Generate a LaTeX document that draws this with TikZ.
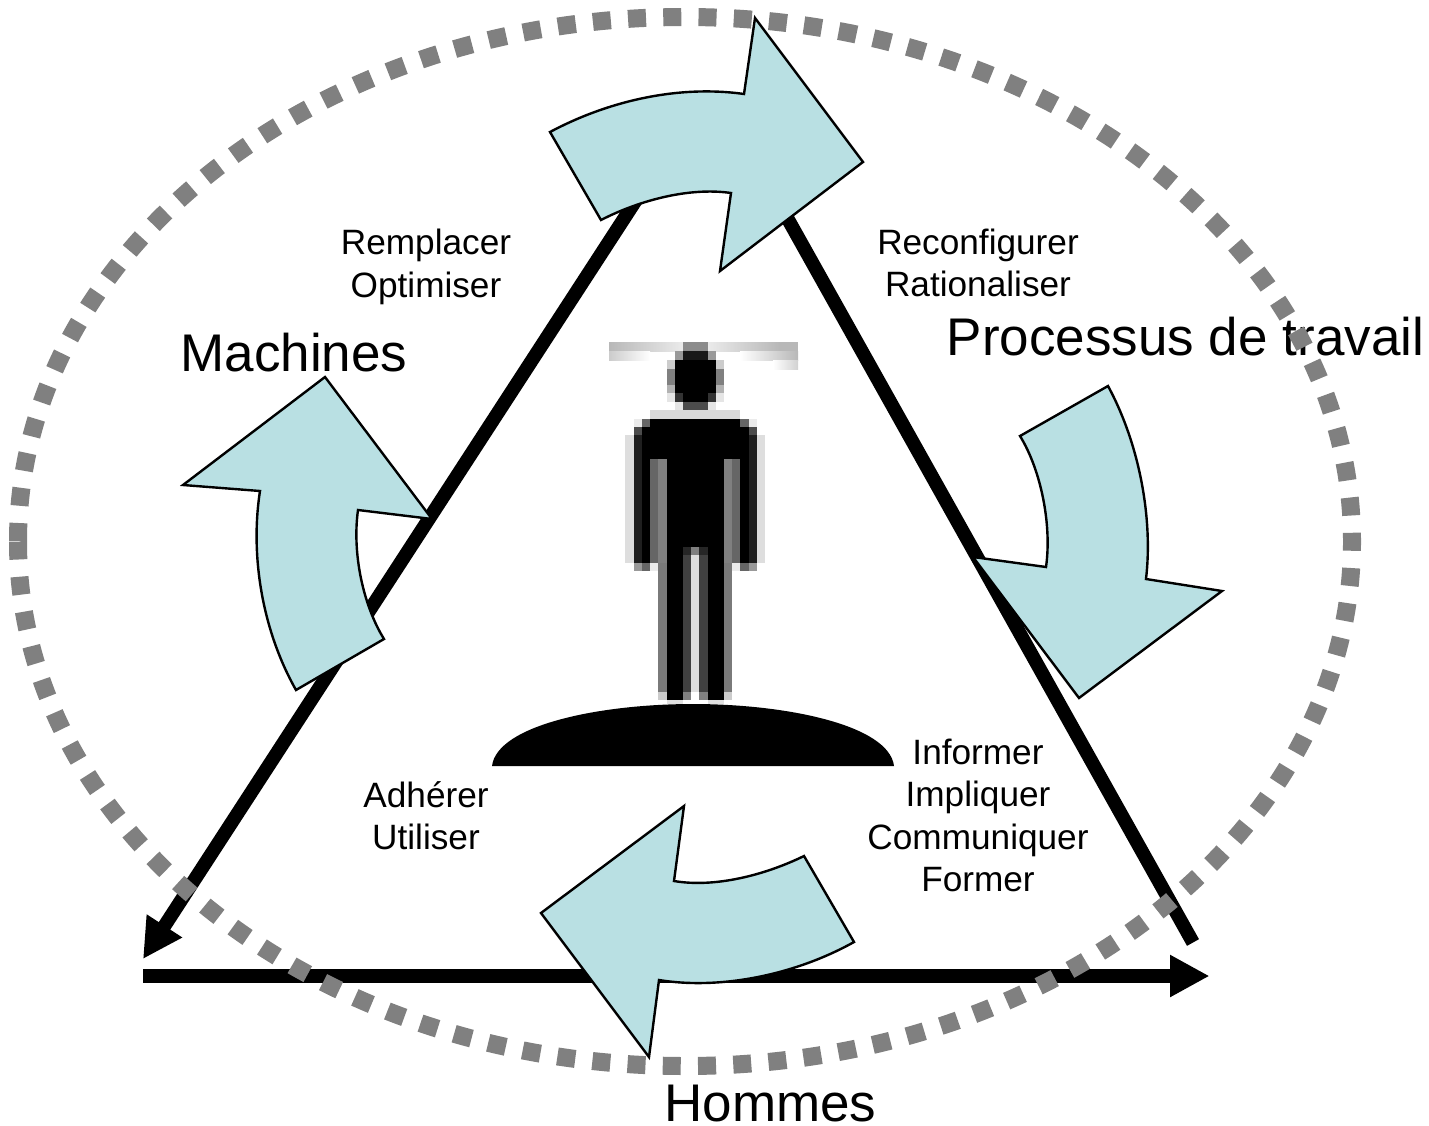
\documentclass[tikz,border=0pt]{standalone}
\usepackage{fontspec}
\setmainfont{Liberation Sans}
\usetikzlibrary{arrows.meta}
\definecolor{flow}{HTML}{B9E0E3}
\tikzset{
  side/.style={line width=13.7pt},
  tip/.style={-{Triangle[length=39.5pt,width=39.5pt]}},
  flowarrow/.style={draw=black,line width=2.4pt,fill=flow,line join=miter},
  small/.style={align=center,font=\fontsize{35.2}{42.4}\selectfont,inner sep=0pt},
  big/.style={font=\fontsize{53}{60}\selectfont,inner sep=0pt},
  ring/.style={draw=black!50,line width=18pt,dash pattern=on 18pt off 17.27pt},
}
\begin{document}
\begin{tikzpicture}[x=1pt,y=-1pt]
  \useasboundingbox (0,0) rectangle (1429,1125);
  \coordinate (leftA) at (640,194);
  \coordinate (leftB) at (143,959);
  \coordinate (rightA) at (780,205);
  \coordinate (rightB) at (1193,942.5);
  \coordinate (baseA) at (143,976);
  \coordinate (baseB) at (1209.5,976);
  \draw[side,tip] (leftA) -- (leftB);
  \draw[side] (rightA) -- (rightB);
  \draw[side,tip] (baseA) -- (baseB);
  \node[small] (remplacer) at (426,267) {Remplacer\\Optimiser};
  \node[small] (reconfigurer) at (978,263) {Reconfigurer\\Rationaliser};
  \node[small] (adherer) at (426,815.5) {Adhérer\\Utiliser};
  \node[small] (informer) at (978,815.5) {Informer\\Impliquer\\Communiquer\\Former};
  \node[big] (machines) at (294,353) {Machines};
  \node[big] (processus) at (1185.5,337) {Processus de travail};
  \node[big] (hommes) at (770.5,1104) {Hommes};
  \draw[ring] (18,541.5) arc[start angle=180,end angle=-180,x radius=667,y radius=524.5];
  \draw[flowarrow] (550,132) .. controls (610,100) and (680,85) .. (744,94) -- (755,18) -- (863,162) -- (720,271) -- (731,193) .. controls (690,187) and (640,200) .. (601,220) -- cycle;
  \draw[flowarrow] (1108,386) .. controls (1140,445) and (1153,520) .. (1146,579) -- (1222,591) -- (1079,698) -- (973,557) -- (1046,567) .. controls (1052,525) and (1041,470) .. (1020,436) -- cycle;
  \draw[flowarrow] (854,942) .. controls (795,975) and (720,990) .. (659,980) -- (649,1057) -- (541,913) -- (684,806) -- (674,881) .. controls (715,888) and (765,875) .. (804,856) -- cycle;
  \draw[flowarrow] (296,690) .. controls (262,630) and (250,555) .. (260,491) -- (183,485) -- (325,377) -- (432,519) -- (358,510) .. controls (352,553) and (363,605) .. (384,639) -- cycle;
  \fill[left color=black!28,right color=black!8] (609,342) rectangle (683,351);
  \fill[left color=black!8,right color=black!28] (708,342) rectangle (780,351);
  \fill[black!28] (780,342) rectangle (798,351);
  \fill[left color=black!20,right color=white] (609,351) rectangle (650,360);
  \fill[left color=white,right color=black!28] (740,351) rectangle (798,360);
  \fill[left color=white,right color=black!18] (773,360) rectangle (798,369);
  \fill[black!45] (683,342) rectangle (708,351);
  \fill[black!40] (675,351) rectangle (716,360);
  \fill[black!90] (683,351) rectangle (708,360);
  \fill[black!20] (667,360) rectangle (724,369);
  \fill[black!50] (667,369) rectangle (724,385);
  \fill[black!30] (667,385) rectangle (724,393);
  \fill[black!10] (667,393) rectangle (724,402);
  \fill[black] (675,360) rectangle (716,393);
  \fill[black!80] (675,393) rectangle (716,402);
  \fill[black] (683,393) rectangle (708,402);
  \fill[black!10] (675,402) rectangle (716,410);
  \fill[black!70] (683,402) rectangle (708,410);
  \fill[black!15] (650,410) rectangle (740,419);
  \fill[black!13] (625,435) rectangle (765,563);
  \fill[black!8] (634,419) rectangle (757,427);
  \fill[black!60] (642,419) rectangle (749,427);
  \fill[black] (650,419) rectangle (740,427);
  \fill[black!70] (634,427) rectangle (757,435);
  \fill[black!88] (634,435) rectangle (757,563);
  \fill[black] (642,427) rectangle (749,563);
  \fill[black!60] (650,459) rectangle (658,563);
  \fill[black!50] (658,459) rectangle (667,563);
  \fill[black!50] (724,459) rectangle (732,563);
  \fill[black!60] (732,459) rectangle (740,563);
  \fill[black!40] (634,563) rectangle (642,571);
  \fill[black!60] (642,563) rectangle (650,571);
  \fill[black!8] (650,563) rectangle (658,571);
  \fill[black!60] (732,563) rectangle (749,571);
  \fill[black!40] (749,563) rectangle (757,571);
  \fill[black!8] (732,563) rectangle (740,571);
  \fill[black!52] (658,563) rectangle (732,692);
  \fill[black] (667,555) rectangle (724,700);
  \fill[black!85] (683,547) rectangle (708,555);
  \fill[black!50] (691,547) rectangle (699,555);
  \fill[black!75] (683,555) rectangle (708,692);
  \fill[black!13] (691,555) rectangle (699,692);
  \fill[black!20] (658,692) rectangle (667,700);
  \fill[black!20] (724,692) rectangle (732,700);
  \fill[black!50] (683,692) rectangle (708,700);
  \fill[white] (691,692) rectangle (699,700);
  \fill[black!12] (667,700) rectangle (683,704);
  \fill[black!12] (708,700) rectangle (724,704);
  \fill[black] (492,766) .. controls (497,725) and (600,704) .. (693,704) .. controls (786,704) and (889,725) .. (894,766) -- cycle;
\end{tikzpicture}
\end{document}
